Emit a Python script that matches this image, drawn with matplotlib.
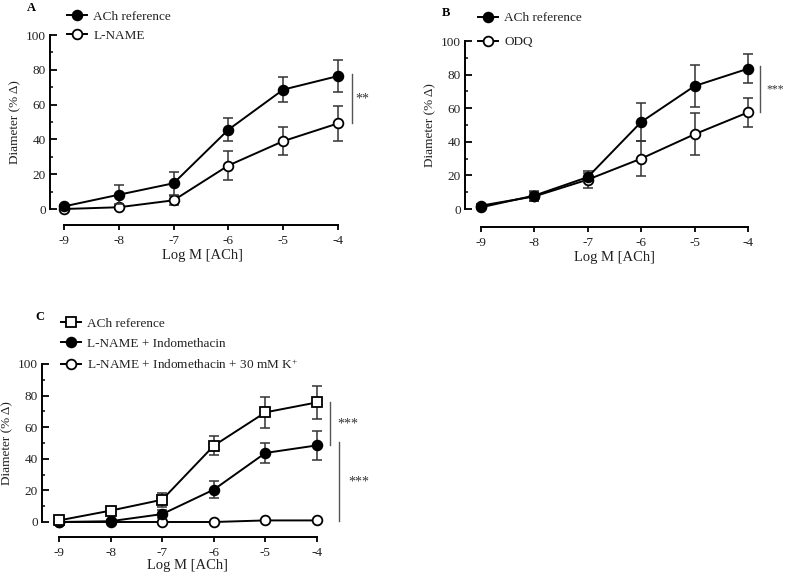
import numpy as np
import matplotlib
matplotlib.use('Agg')
import matplotlib.pyplot as plt

plt.rcParams['font.family'] = ['Liberation Serif', 'DejaVu Serif']
plt.rcParams['axes.unicode_minus'] = False
plt.rcParams['mathtext.default'] = 'regular'

# data (mean and SEM, % change in diameter)
log_ach = [-9, -8, -7, -6, -5, -4]

# panel A
a_ref = [1.5, 8.2, 14.8, 45.6, 68.6, 76.4]
a_ref_err = [1.0, 5.4, 6.7, 6.7, 7.0, 9.4]
a_lname = [0.0, 1.0, 5.0, 25.0, 39.0, 49.2]
a_lname_err = [0.5, 1.0, 2.5, 8.5, 8.0, 10.2]

# panel B
b_ref = [1.0, 8.0, 19.0, 51.8, 73.2, 83.5]
b_ref_err = [1.0, 3.0, 2.5, 11.3, 12.5, 8.5]
b_odq = [2.0, 7.5, 17.5, 30.0, 44.5, 57.5]
b_odq_err = [1.0, 2.5, 5.0, 10.6, 12.4, 8.8]

# panel C
c_ref = [1.0, 7.2, 14.1, 48.3, 69.4, 75.7]
c_ref_err = [0.8, 2.3, 4.3, 6.0, 9.7, 10.6]
c_lni = [0.0, 0.5, 5.0, 20.5, 43.7, 48.5]
c_lni_err = [0.5, 1.0, 2.5, 5.3, 6.3, 9.3]
c_lnik = [0.0, 0.0, 0.0, 0.0, 1.0, 1.0]
c_lnik_err = [0.3, 0.3, 0.3, 0.3, 0.5, 0.5]

W, H = 787, 573
fig = plt.figure(figsize=(W / 100, H / 100), dpi=100)

TXT = '#222222'


def make_ax(x9, x4, y0, y100, yspine, xspine, xpad=2):
    # positions in pixels of the reference picture
    ux = (x4 - x9) / 5
    uy = (y0 - y100) / 100
    xlo = -9 - (x9 - yspine) / ux
    xhi = -3.7
    ylo, yhi = -3, 103
    right = x4 + (xhi + 4) * ux
    top = y100 - (yhi - 100) * uy
    bottom = y0 - ylo * uy
    ax = fig.add_axes([yspine / W, 1 - bottom / H, (right - yspine) / W, (bottom - top) / H])
    ax.set_xlim(xlo, xhi)
    ax.set_ylim(ylo, yhi)
    ax.patch.set_alpha(0)
    for s in ['top', 'right']:
        ax.spines[s].set_visible(False)
    ax.spines['left'].set_bounds(0, 100)
    ax.spines['bottom'].set_bounds(-9, -4)
    ax.spines['bottom'].set_position(('outward', (xspine - bottom) * 0.72))
    for s in ['left', 'bottom']:
        ax.spines[s].set_linewidth(1.4)
    ax.set_xticks(log_ach)
    ax.set_xticklabels([str(v) for v in log_ach])
    ax.set_yticks(range(0, 101, 20))
    ax.set_yticks(range(10, 100, 20), minor=True)
    ax.tick_params(axis='y', which='major', direction='in', length=5, width=1.3, pad=3, labelsize=9.5, labelcolor=TXT)
    ax.tick_params(axis='y', which='minor', direction='in', length=2.5, width=1.1)
    ax.tick_params(axis='x', which='major', direction='out', length=3.5, width=1.3, pad=3.5, labelsize=9.5, labelcolor=TXT)
    ax.set_xlabel('Log M [ACh]', fontsize=10.5, labelpad=xpad, color=TXT)
    ax.set_ylabel('Diameter (% Δ)', fontsize=9.5, labelpad=3, color=TXT)
    return ax


def series(ax, y, err, marker, filled, label, z):
    ax.errorbar(log_ach, y, yerr=err, fmt='none', ecolor='#333333', elinewidth=1.1,
                capsize=3.5, capthick=1.1, zorder=z, clip_on=False)
    ax.plot(log_ach, y, color='black', lw=1.4, marker=marker, ms=7 if marker == 'o' else 6.5,
            mfc='black' if filled else 'white', mec='black', mew=1.3,
            label=label, zorder=z + 0.5, clip_on=False)


def sig_bar(ax, x, y1, y2, text, tx, ha='center', size=10):
    ax.plot([x, x], [y1, y2], color='#555555', lw=1.0, clip_on=False)
    ax.text(tx, (y1 + y2) / 2, text, ha=ha, va='center', fontsize=size, color='#333333')


def legend(ax, handles, labels, x, y, spacing, hlen):
    leg = ax.legend(handles, labels, loc='upper left', bbox_to_anchor=(x / W, 1 - y / H),
                    bbox_transform=fig.transFigure, frameon=False, fontsize=9.5,
                    handlelength=hlen, handletextpad=0.5, labelspacing=spacing, borderpad=0,
                    borderaxespad=0)
    for t in leg.get_texts():
        t.set_color(TXT)
    return leg


# ---- A ----
axA = make_ax(64, 338, 209, 35, 50, 225)
series(axA, a_ref, a_ref_err, 'o', True, 'ACh reference', 4)
series(axA, a_lname, a_lname_err, 'o', False, 'L-NAME', 3)
h, l = axA.get_legend_handles_labels()
legend(axA, h, l, 67, 10.5, 0.5, 1.5)
sig_bar(axA, log_ach[-1] + 0.26, a_ref[-1] + 1.2, a_lname[-1], '**', log_ach[-1] + 0.44)
fig.text(31 / W, 1 - 8 / H, 'A', fontsize=9, fontweight='bold', ha='center', va='center')

# ---- B ----
axB = make_ax(481, 748, 209, 41, 465, 227)
series(axB, b_ref, b_ref_err, 'o', True, 'ACh reference', 4)
series(axB, b_odq, b_odq_err, 'o', False, 'ODQ', 3)
h, l = axB.get_legend_handles_labels()
legend(axB, h, l, 478, 12, 0.9, 1.5)
sig_bar(axB, log_ach[-1] + 0.22, b_ref[-1] + 1.5, b_odq[-1], '***', log_ach[-1] + 0.34, ha='left', size=8.5)
fig.text(446 / W, 1 - 13 / H, 'B', fontsize=9, fontweight='bold', ha='center', va='center')

# ---- C ----
axC = make_ax(59, 317, 522, 364, 42, 537, xpad=0.3)
series(axC, c_lnik, c_lnik_err, 'o', False, 'L-NAME + Indomethacin + 30 mM K$^{+}$', 2)
series(axC, c_lni, c_lni_err, 'o', True, 'L-NAME + Indomethacin', 3)
series(axC, c_ref, c_ref_err, 's', False, 'ACh reference', 4)
h, l = axC.get_legend_handles_labels()
legend(axC, h[::-1], l[::-1], 61, 317.5, 0.6, 1.5)
sig_bar(axC, log_ach[-1] + 0.25, c_ref[-1], c_lni[-1], '***', log_ach[-1] + 0.6)
sig_bar(axC, log_ach[-1] + 0.43, c_lni[-1] + 2, c_lnik[-1] - 0.6, '***', log_ach[-1] + 0.81)
fig.text(40 / W, 1 - 317 / H, 'C', fontsize=9, fontweight='bold', ha='center', va='center')

fig.savefig('out.png', dpi=100)
